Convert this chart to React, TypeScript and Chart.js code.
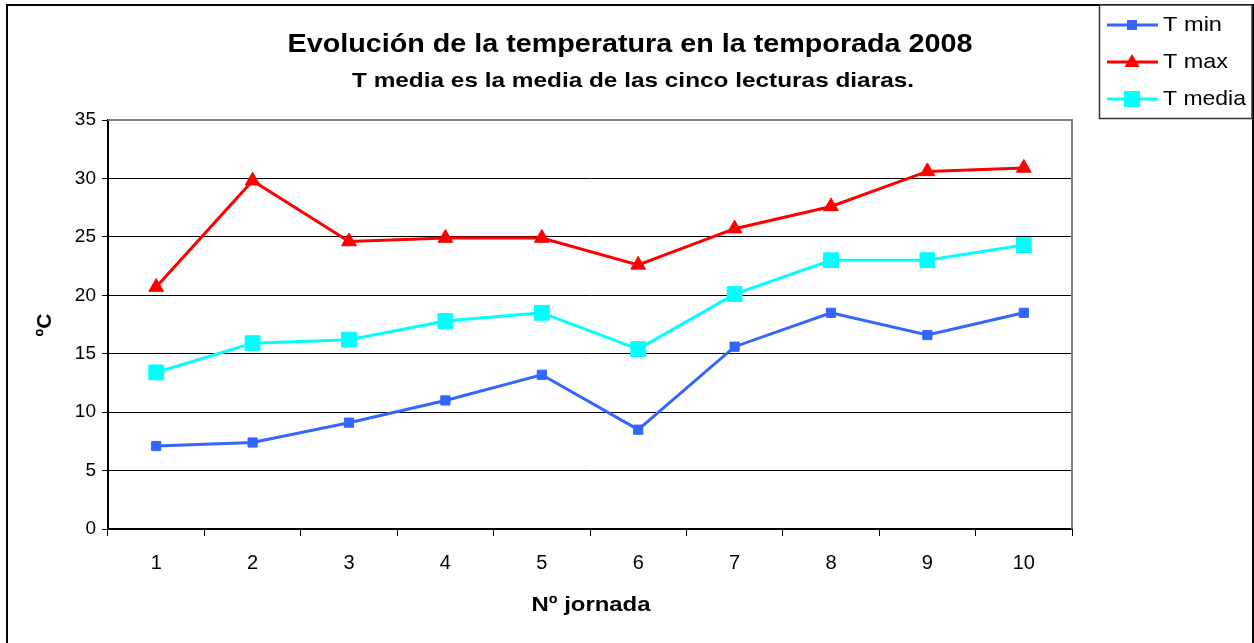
import React, { useEffect, useRef } from "react";
import { Chart, registerables } from "chart.js";

Chart.register(...registerables);

const categories = ["1", "2", "3", "4", "5", "6", "7", "8", "9", "10"];
const tMin = [7.1, 7.4, 9.1, 11.0, 13.2, 8.5, 15.6, 18.5, 16.6, 18.5];
const tMax = [20.7, 29.8, 24.6, 24.9, 24.9, 22.6, 25.7, 27.6, 30.6, 30.9];
const tMedia = [13.4, 15.9, 16.2, 17.8, 18.5, 15.4, 20.1, 23.0, 23.0, 24.3];
const yTicks = [0, 5, 10, 15, 20, 25, 30, 35];

const titleText = "Evolución de la temperatura en la temporada 2008";
const subtitleText = "T media es la media de las cinco lecturas diaras.";
const xTitle = "Nº jornada";
const yTitle = "ºC";

const FONT = "'Liberation Sans', Arial, sans-serif";

function stretchedText(
  ctx: CanvasRenderingContext2D,
  text: string,
  x: number,
  y: number,
  font: string,
  width: number,
  align: "center" | "left"
) {
  ctx.save();
  ctx.font = font;
  ctx.textBaseline = "middle";
  ctx.textAlign = "left";
  const w = ctx.measureText(text).width;
  const sx = width / w;
  const left = align === "center" ? x - width / 2 : x;
  ctx.translate(left, y);
  ctx.scale(sx, 1);
  ctx.fillText(text, 0, 0);
  ctx.restore();
}

const decorPlugin = {
  id: "decor",
  beforeDraw(chart: any) {
    const ctx = chart.ctx;
    ctx.save();
    ctx.fillStyle = "#ffffff";
    ctx.fillRect(0, 0, chart.width, chart.height);
    ctx.restore();
  },
  afterDraw(chart: any) {
    const ctx = chart.ctx;
    const a = chart.chartArea;
    ctx.save();
    ctx.strokeStyle = "#808080";
    ctx.lineWidth = 2;
    ctx.beginPath();
    ctx.moveTo(a.left, a.top);
    ctx.lineTo(a.right, a.top);
    ctx.lineTo(a.right, a.bottom);
    ctx.stroke();
    ctx.strokeStyle = "#000000";
    ctx.lineWidth = 2;
    ctx.beginPath();
    ctx.moveTo(7, chart.height);
    ctx.lineTo(7, 5);
    ctx.lineTo(1253, 5);
    ctx.lineTo(1253, chart.height);
    ctx.stroke();

    ctx.fillStyle = "#000000";
    stretchedText(ctx, titleText, 630, 45, `bold 26px ${FONT}`, 685, "center");
    stretchedText(ctx, subtitleText, 633, 81, `bold 21px ${FONT}`, 562, "center");
    stretchedText(ctx, xTitle, 591, 605, `bold 21px ${FONT}`, 119, "center");
    ctx.save();
    ctx.translate(45, 325);
    ctx.rotate(-Math.PI / 2);
    ctx.font = `bold 21px ${FONT}`;
    ctx.textAlign = "center";
    ctx.textBaseline = "middle";
    ctx.fillText(yTitle, 0, 0);
    ctx.restore();

    const lx = 1099.5, ly = 5, lw = 152.5, lh = 113.5;
    ctx.fillStyle = "#ffffff";
    ctx.fillRect(lx, ly, lw, lh);
    ctx.strokeStyle = "#333333";
    ctx.lineWidth = 1.5;
    ctx.strokeRect(lx, ly, lw, lh);
    const rows = [25, 62, 99];
    const widths = [59, 65, 83];
    chart.data.datasets.forEach((ds: any, i: number) => {
      const y = rows[i];
      ctx.strokeStyle = ds.borderColor;
      ctx.lineWidth = 3;
      ctx.beginPath();
      ctx.moveTo(1107, y);
      ctx.lineTo(1158, y);
      ctx.stroke();
      ctx.fillStyle = ds.pointBackgroundColor;
      if (ds.pointStyle === "triangle") {
        ctx.beginPath();
        ctx.moveTo(1132, y - 8);
        ctx.lineTo(1139.5, y + 5);
        ctx.lineTo(1124.5, y + 5);
        ctx.closePath();
        ctx.fill();
      } else {
        const s = i === 0 ? 10 : 16;
        ctx.fillRect(1132 - s / 2, y - s / 2, s, s);
      }
      ctx.fillStyle = "#000000";
      stretchedText(ctx, ds.label, 1163, y, `21px ${FONT}`, widths[i], "left");
    });
    ctx.restore();
  },
};

export default function App() {
  const ref = useRef<HTMLCanvasElement | null>(null);
  useEffect(() => {
    if (!ref.current) return;
    const chart = new Chart(ref.current, {
      type: "line",
      data: {
        labels: categories,
        datasets: [
          {
            label: "T min",
            data: tMin,
            borderColor: "#3366FF",
            backgroundColor: "#3366FF",
            pointBackgroundColor: "#3366FF",
            pointBorderColor: "#3366FF",
            pointStyle: "rect",
            pointRadius: 6.5,
            pointBorderWidth: 1,
            borderWidth: 3,
            tension: 0,
          },
          {
            label: "T max",
            data: tMax,
            borderColor: "#FF0000",
            backgroundColor: "#FF0000",
            pointBackgroundColor: "#FF0000",
            pointBorderColor: "#FF0000",
            pointStyle: "triangle",
            pointRadius: 8.5,
            pointBorderWidth: 1,
            borderWidth: 3,
            tension: 0,
          },
          {
            label: "T media",
            data: tMedia,
            borderColor: "#00FFFF",
            backgroundColor: "#00FFFF",
            pointBackgroundColor: "#00FFFF",
            pointBorderColor: "#00FFFF",
            pointStyle: "rect",
            pointRadius: 10.5,
            pointBorderWidth: 1,
            borderWidth: 3,
            tension: 0,
          },
        ],
      },
      options: {
        animation: false,
        responsive: false,
        maintainAspectRatio: false,
        layout: { padding: { left: 0, right: 182, top: 120, bottom: 0 } },
        plugins: {
          legend: { display: false },
          title: { display: false },
          tooltip: { enabled: false },
        },
        scales: {
          x: {
            type: "category",
            offset: true,
            afterFit: (s: any) => {
              s.height = 114;
            },
            grid: {
              offset: true,
              drawOnChartArea: false,
              drawTicks: true,
              tickLength: 7,
              color: "#000000",
            },
            border: { display: true, color: "#000000", width: 2 },
            ticks: {
              color: "#000000",
              font: { family: FONT, size: 20 },
              padding: 15,
              maxRotation: 0,
            },
          },
          y: {
            min: 0,
            max: 35,
            afterFit: (s: any) => {
              s.width = 108;
            },
            afterBuildTicks: (s: any) => {
              s.ticks = yTicks.map((v) => ({ value: v }));
            },
            grid: {
              color: "#000000",
              lineWidth: 1,
              drawTicks: true,
              tickLength: 6,
            },
            border: { display: true, color: "#000000", width: 2 },
            ticks: {
              color: "#000000",
              font: { family: FONT, size: 19 },
              padding: 6,
            },
          },
        },
      },
      plugins: [decorPlugin],
    } as any);
    return () => chart.destroy();
  }, []);
  return (
    <div style={{ position: "fixed", left: 0, top: 0, width: 1254, height: 643, background: "#fff" }}>
      <canvas ref={ref} width={1254} height={643} style={{ display: "block", width: 1254, height: 643 }} />
    </div>
  );
}
